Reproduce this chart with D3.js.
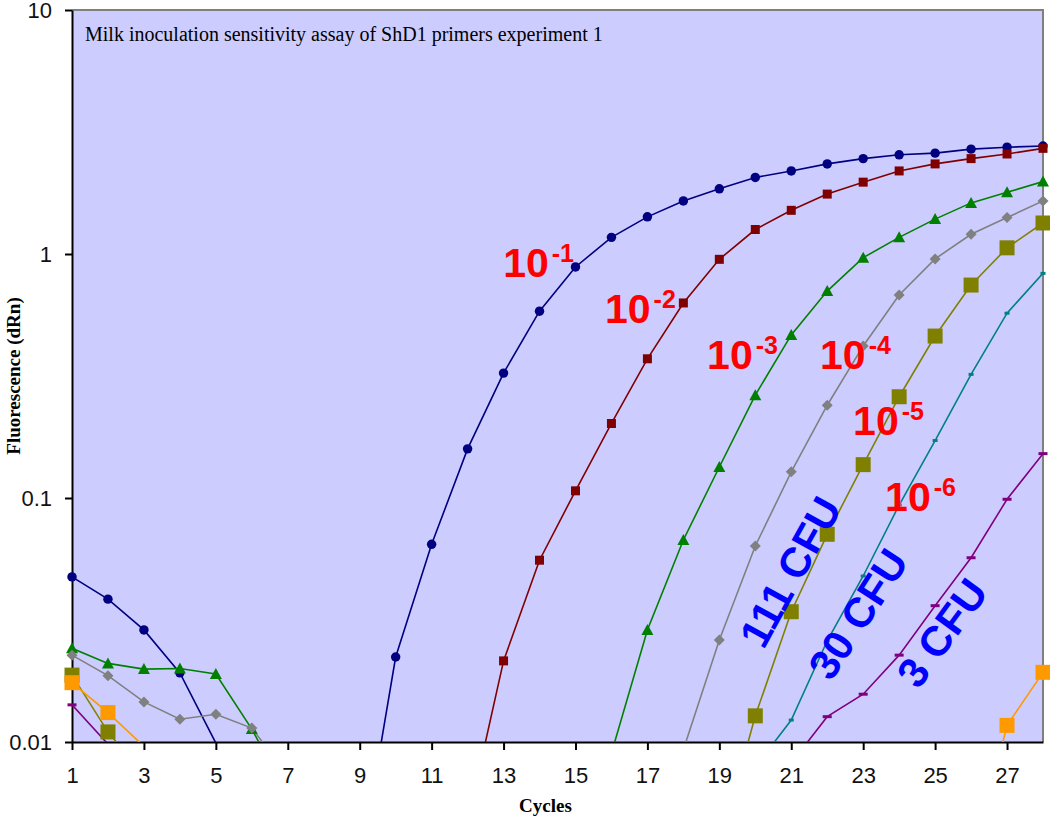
<!DOCTYPE html>
<html>
<head>
<meta charset="utf-8">
<script src="https://cdn.jsdelivr.net/npm/d3@7"></script>
<style>
  body { margin: 0; background: #fff; }
  .tick text { font-family: "Liberation Sans", Arial, sans-serif; font-size: 22px; fill: #111; }
</style>
</head>
<body>
<div id="chart"></div>
<script>
// cycles 1..28, fluorescence (dRn); null = below the axis / not visible
var cycles = d3.range(1, 29);

var dil1 = [0.0475, 0.0385, 0.0288, 0.0192, 0.0099, null, null, null, 0.003, 0.0223, 0.0646, 0.159, 0.325, 0.583,
            0.885, 1.17, 1.42, 1.65, 1.85, 2.06, 2.19, 2.34, 2.46, 2.55, 2.59, 2.69, 2.74, 2.77];
var dil2 = [null, null, null, null, null, null, null, null, null, null, null, 0.0047, 0.0215, 0.0556,
            0.107, 0.202, 0.372, 0.63, 0.951, 1.26, 1.51, 1.76, 1.97, 2.19, 2.34, 2.46, 2.57, 2.71];
var dil3 = [0.0242, 0.021, 0.0199, 0.02, 0.019, 0.0113, 0.006, null, null, null, null, null, null, null,
            null, 0.009, 0.0288, 0.0673, 0.134, 0.264, 0.466, 0.705, 0.966, 1.17, 1.39, 1.62, 1.79, 1.98];
var dil4 = [0.0227, 0.0187, 0.0146, 0.0124, 0.013, 0.0114, 0.0073, null, null, null, null, null, null, null,
            null, null, null, 0.0093, 0.0262, 0.0636, 0.128, 0.24, 0.42, 0.679, 0.955, 1.205, 1.41, 1.65];
var dil5 = [0.0188, 0.011, 0.0073, null, null, null, null, null, null, null, null, null, null, null,
            null, null, null, null, 0.0037, 0.0128, 0.0342, 0.071, 0.137, 0.26, 0.461, 0.746, 1.06, 1.34];
var dil6 = [null, null, null, null, null, null, null, null, null, null, null, null, null, null,
            null, null, null, null, null, 0.0079, 0.0123, 0.026, 0.0479, 0.0936, 0.172, 0.321, 0.572, 0.833];
var dil7 = [0.0142, 0.0098, null, null, null, null, null, null, null, null, null, null, null, null,
            null, null, null, null, null, null, 0.0082, 0.0127, 0.0157, 0.0227, 0.0362, 0.0569, 0.0988, 0.152];
var ntc  = [0.0175, 0.0132, 0.0096, null, null, null, null, null, null, null, null, null, null, null,
            null, null, null, null, null, null, null, null, null, null, null, 0.003, 0.0117, 0.0193];

var seriesValues = [dil1, dil2, dil3, dil4, dil5, dil6, dil7, ntc];
var seriesColors = ["#000080", "#800000", "#008000", "#808080", "#808000", "#008080", "#800080", "#FF9900"];
var seriesMarkers = ["circle", "square", "triangle", "diamond", "bigsquare", "tick", "dash", "bigsquare"];

var yTicks = [0.01, 0.1, 1, 10];
var yTickLabels = ["0.01", "0.1", "1", "10"];
var xTicks = [1, 3, 5, 7, 9, 11, 13, 15, 17, 19, 21, 23, 25, 27];

var titleText = "Milk inoculation sensitivity assay of ShD1 primers experiment 1";

// annotations (placed in data coordinates: cycle, dRn)
var dilExponents = ["-1", "-2", "-3", "-4", "-5", "-6"];
var dilAt = [[12.99, 0.805], [15.82, 0.522], [18.66, 0.337], [21.8, 0.337], [22.72, 0.181], [23.61, 0.0887]];
var cfuText = ["111 CFU", "30 CFU", "3 CFU"];
var cfuAt = [[20.97, 0.0498], [22.86, 0.0335], [25.19, 0.028]];
var cfuAngle = [-61, -57, -54];

var svgWidth = 1050;
var svgHeight = 821;
var margin = { top: 10, right: 7, bottom: 79, left: 72 };
var width = svgWidth - margin.left - margin.right;
var height = svgHeight - margin.top - margin.bottom;

var svg = d3.select("#chart")
    .append("svg")
    .attr("width", svgWidth)
    .attr("height", svgHeight);

var chartGroup = svg.append("g")
    .attr("transform", `translate(${margin.left}, ${margin.top})`);

var x = d3.scaleLinear().domain([1, 28]).range([0, width]);
var y = d3.scaleLog().domain([0.01, 10]).range([height, 0]);

chartGroup.append("rect")
    .attr("width", width)
    .attr("height", height)
    .attr("fill", "#CCCCFF");

// gray frame on top and right
chartGroup.append("path")
    .attr("d", `M0,0H${width}V${height}`)
    .attr("fill", "none")
    .attr("stroke", "#808080")
    .attr("stroke-width", 2);

svg.append("defs").append("clipPath").attr("id", "plotClip")
    .append("rect").attr("width", width).attr("height", height);

// axes
var leftAxis = d3.axisLeft(y).tickValues(yTicks)
    .tickFormat((d, i) => yTickLabels[i]).tickSizeInner(7).tickSizeOuter(0).tickPadding(13);
var bottomAxis = d3.axisBottom(x).tickValues(xTicks)
    .tickFormat(d3.format("d")).tickSizeInner(8).tickSizeOuter(0).tickPadding(17);

var yAxisG = chartGroup.append("g").call(leftAxis);
var xAxisG = chartGroup.append("g").attr("transform", `translate(0, ${height})`).call(bottomAxis);
[yAxisG, xAxisG].forEach(function(g) {
    g.select(".domain").attr("stroke", "#000").attr("stroke-width", 2);
    g.selectAll(".tick line").attr("stroke", "#000").attr("stroke-width", 2);
});
yAxisG.selectAll(".tick text").attr("dy", "0.36em");

// lines
var line = d3.line()
    .defined(d => d.v != null)
    .x(d => x(d.c))
    .y(d => y(d.v));

var lineLayer = chartGroup.append("g").attr("clip-path", "url(#plotClip)");
var markerLayer = chartGroup.append("g");

function markerPath(type) {
    switch (type) {
        case "circle": return d3.symbol(d3.symbolCircle, 70)();
        case "square": return "M-4.5,-4.5h9v9h-9Z";
        case "triangle": return "M0,-6L6,5H-6Z";
        case "diamond": return "M0,-5.5L5.5,0L0,5.5L-5.5,0Z";
        case "bigsquare": return "M-7.5,-7.5h15v15h-15Z";
        case "tick": return "M-2.5,-1.5h5v3h-5Z";
        case "dash": return "M-4.5,-1.5h9v3h-9Z";
    }
}

seriesValues.forEach(function(vals, i) {
    var pts = cycles.map((c, k) => ({ c: c, v: vals[k] }));
    lineLayer.append("path")
        .datum(pts)
        .attr("d", line)
        .attr("fill", "none")
        .attr("stroke", seriesColors[i])
        .attr("stroke-width", 1.6);

    markerLayer.selectAll(null)
        .data(pts.filter(d => d.v != null && d.v >= 0.01))
        .enter().append("path")
        .attr("transform", d => `translate(${x(d.c)}, ${y(d.v)})`)
        .attr("d", markerPath(seriesMarkers[i]))
        .attr("fill", seriesColors[i]);
});

// title inside plot
chartGroup.append("text")
    .attr("x", 13)
    .attr("y", 31)
    .attr("font-family", "'Liberation Serif', 'Times New Roman', serif")
    .attr("font-size", 20)
    .attr("fill", "#000")
    .text(titleText);

// dilution labels (red)
var dilG = chartGroup.append("g")
    .attr("font-family", "'Liberation Sans', Arial, sans-serif")
    .attr("font-weight", "bold")
    .attr("fill", "#FF0000");
dilExponents.forEach(function(e, i) {
    var t = dilG.append("text")
        .attr("x", x(dilAt[i][0]))
        .attr("y", y(dilAt[i][1]));
    t.append("tspan").attr("font-size", 41).text("10");
    t.append("tspan").attr("font-size", 25).attr("dx", 3).attr("dy", -15).text(e);
});

// CFU labels (blue, rotated)
var cfuG = chartGroup.append("g")
    .attr("font-family", "'Liberation Sans', Arial, sans-serif")
    .attr("font-weight", "bold")
    .attr("font-size", 42)
    .attr("fill", "#0000FF");
cfuText.forEach(function(s, i) {
    cfuG.append("text")
        .attr("transform", `translate(${x(cfuAt[i][0])}, ${y(cfuAt[i][1])}) rotate(${cfuAngle[i]})`)
        .attr("text-anchor", "middle")
        .attr("dy", "0.35em")
        .text(s);
});

// axis titles
svg.append("text")
    .attr("x", margin.left + width / 2 - 12)
    .attr("y", 812)
    .attr("text-anchor", "middle")
    .attr("font-family", "'Liberation Serif', 'Times New Roman', serif")
    .attr("font-weight", "bold")
    .attr("font-size", 19)
    .text("Cycles");

svg.append("text")
    .attr("transform", `translate(20, ${margin.top + height / 2}) rotate(-90)`)
    .attr("text-anchor", "middle")
    .attr("font-family", "'Liberation Serif', 'Times New Roman', serif")
    .attr("font-weight", "bold")
    .attr("font-size", 19)
    .text("Fluorescence (dRn)");
</script>
</body>
</html>
